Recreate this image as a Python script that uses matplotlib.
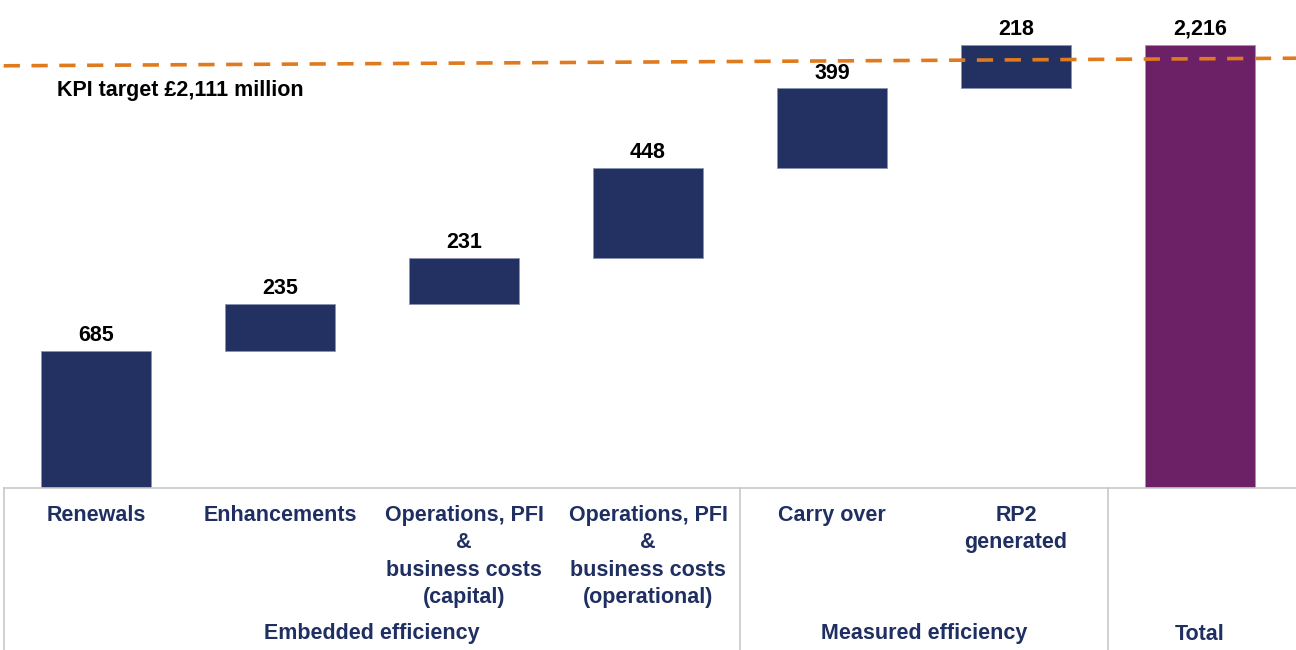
import matplotlib
matplotlib.use("Agg")
import matplotlib.pyplot as plt
import numpy as np

plt.rcParams['font.family'] = ['Liberation Sans', 'DejaVu Sans']

categories = ["Renewals", "Enhancements", "Operations, PFI\n&\nbusiness costs\n(capital)",
              "Operations, PFI\n&\nbusiness costs\n(operational)", "Carry over",
              "RP2\ngenerated", ""]
values = [685, 235, 231, 448, 399, 218]
total = 2216
value_labels = ["685", "235", "231", "448", "399", "218", "2,216"]
groups = ["Embedded efficiency", "Measured efficiency", "Total"]
group_bounds = [(-0.5, 3.5), (3.5, 5.5), (5.5, 6.6)]
group_centers = [1.5, 4.5, 6]
kpi_target = 2111
kpi_label = "KPI target £2,111 million"

NAVY = "#233162"
PURPLE = "#6C2167"
ORANGE = "#E07A1F"
TXT = "#1F2F62"
GRID = "#C8C8C8"
FS = 15.5

fig = plt.figure(figsize=(12.96, 6.5), dpi=100)
ax = fig.add_axes([0, 162/650, 1, 488/650])
xlim = (-0.522, 6.522)
ax.set_xlim(*xlim)
ax.set_ylim(0, 2440)
ax.axis('off')

n = len(values)
x = np.arange(n + 1)
bottoms = np.concatenate([[0], np.cumsum(values)[:-1]])
ax.bar(x[:n], values, bottom=bottoms, width=0.6, color=NAVY, edgecolor="#8a93b3", linewidth=0.6, zorder=2)
ax.bar(x[n], total, width=0.6, color=PURPLE, edgecolor="#b58ab2", linewidth=0.6, zorder=2)

tops = list(bottoms + np.array(values)) + [total]
for xi, top, lab in zip(x, tops, value_labels):
    ax.annotate(lab, (xi, top), xytext=(0, 3.5), textcoords='offset points',
                ha='center', va='bottom', fontsize=FS, fontweight='bold', color='black')

# KPI dashed line (slightly tilted as in the source)
tilt = 38
ax.plot([xlim[0] + 0.02, xlim[1]], [kpi_target, kpi_target + tilt], linestyle=(0, (4.5, 3.2)),
        color=ORANGE, linewidth=2.6, zorder=3, clip_on=False)
ax.text(-0.212, kpi_target - 122, kpi_label, ha='left', va='center', fontsize=FS,
        fontweight='bold', color='black')

# category table
tax = fig.add_axes([0, 0, 1, 162/650])
tax.set_xlim(*xlim)
tax.set_ylim(0, 162)
tax.axis('off')
tax.plot([-0.5, xlim[1]], [162, 162], color=GRID, linewidth=1.2, clip_on=False)
for (a, b) in group_bounds:
    tax.plot([a, a], [0, 162], color=GRID, linewidth=1.2, clip_on=False)
for xi, cat in zip(x, categories):
    tax.text(xi, 162 - 17, cat, ha='center', va='top', fontsize=FS, fontweight='bold',
             color=TXT, linespacing=1.4)
for gc, g in zip(group_centers, groups):
    tax.text(gc, 162 - 146, g, ha='center', va='center', fontsize=FS, fontweight='bold', color=TXT)

fig.savefig("out.png", dpi=100)
